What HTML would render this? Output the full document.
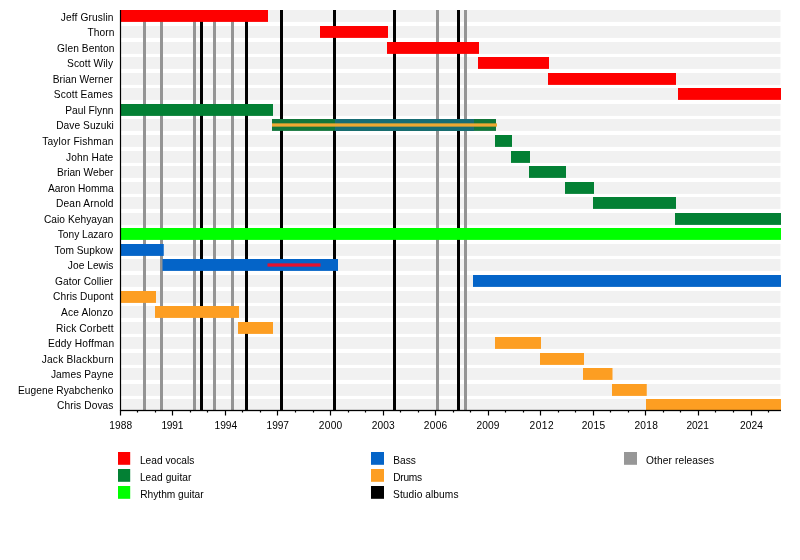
<!DOCTYPE html>
<html><head><meta charset="utf-8"><title>Timeline</title>
<style>
html,body{margin:0;padding:0;background:#fff;}
body{width:800px;height:560px;overflow:hidden;font-family:"Liberation Sans",sans-serif;}
svg{display:block;filter:blur(0.4px);}
text{font-family:"Liberation Sans",sans-serif;font-size:10.2px;fill:#000;}
</style></head><body>
<svg width="800" height="560" viewBox="0 0 800 560">
<rect width="800" height="560" fill="#fff"/>

<g fill="#f1f1f1">
<rect x="120.5" y="10.00" width="660" height="11.9"/>
<rect x="120.5" y="26.00" width="660" height="11.9"/>
<rect x="120.5" y="42.00" width="660" height="11.9"/>
<rect x="120.5" y="57.00" width="660" height="11.9"/>
<rect x="120.5" y="73.00" width="660" height="11.9"/>
<rect x="120.5" y="88.00" width="660" height="11.9"/>
<rect x="120.5" y="104.00" width="660" height="11.9"/>
<rect x="120.5" y="119.00" width="660" height="11.9"/>
<rect x="120.5" y="135.00" width="660" height="11.9"/>
<rect x="120.5" y="151.00" width="660" height="11.9"/>
<rect x="120.5" y="166.00" width="660" height="11.9"/>
<rect x="120.5" y="182.00" width="660" height="11.9"/>
<rect x="120.5" y="197.00" width="660" height="11.9"/>
<rect x="120.5" y="213.00" width="660" height="11.9"/>
<rect x="120.5" y="228.00" width="660" height="11.9"/>
<rect x="120.5" y="244.00" width="660" height="11.9"/>
<rect x="120.5" y="259.00" width="660" height="11.9"/>
<rect x="120.5" y="275.00" width="660" height="11.9"/>
<rect x="120.5" y="291.00" width="660" height="11.9"/>
<rect x="120.5" y="306.00" width="660" height="11.9"/>
<rect x="120.5" y="322.00" width="660" height="11.9"/>
<rect x="120.5" y="337.00" width="660" height="11.9"/>
<rect x="120.5" y="353.00" width="660" height="11.9"/>
<rect x="120.5" y="368.00" width="660" height="11.9"/>
<rect x="120.5" y="384.00" width="660" height="11.9"/>
<rect x="120.5" y="399.00" width="660" height="11.9"/>
</g>
<g fill="#949494">
<rect x="143" y="10" width="3" height="400"/>
<rect x="160" y="10" width="3" height="400"/>
<rect x="193" y="10" width="3" height="400"/>
<rect x="213" y="10" width="3" height="400"/>
<rect x="231" y="10" width="3" height="400"/>
<rect x="436" y="10" width="3" height="400"/>
<rect x="464" y="10" width="3" height="400"/>
</g><g fill="#000">
<rect x="200" y="10" width="3" height="400"/>
<rect x="245" y="10" width="3" height="400"/>
<rect x="280" y="10" width="3" height="400"/>
<rect x="333" y="10" width="3" height="400"/>
<rect x="393" y="10" width="3" height="400"/>
<rect x="457" y="10" width="3" height="400"/>
</g>
<rect x="120.5" y="10.00" width="147.50" height="11.9" fill="#fe0000"/>
<rect x="320" y="26.00" width="68.00" height="11.9" fill="#fe0000"/>
<rect x="387" y="42.00" width="92.00" height="11.9" fill="#fe0000"/>
<rect x="478" y="57.00" width="71.00" height="11.9" fill="#fe0000"/>
<rect x="548" y="73.00" width="128.00" height="11.9" fill="#fe0000"/>
<rect x="678" y="88.00" width="103.00" height="11.9" fill="#fe0000"/>
<rect x="120.5" y="104.00" width="152.50" height="11.9" fill="#038034"/>
<rect x="495" y="135.00" width="17.00" height="11.9" fill="#038034"/>
<rect x="511" y="151.00" width="19.00" height="11.9" fill="#038034"/>
<rect x="529" y="166.00" width="37.00" height="11.9" fill="#038034"/>
<rect x="565" y="182.00" width="29.00" height="11.9" fill="#038034"/>
<rect x="593" y="197.00" width="83.00" height="11.9" fill="#038034"/>
<rect x="675" y="213.00" width="106.00" height="11.9" fill="#038034"/>
<rect x="120.5" y="228.00" width="660.50" height="11.9" fill="#00ff00"/>
<rect x="120.5" y="244.00" width="43.25" height="11.9" fill="#0464c8"/>
<rect x="162.5" y="259.00" width="175.50" height="11.9" fill="#0464c8"/>
<rect x="473" y="275.00" width="308.00" height="11.9" fill="#0464c8"/>
<rect x="120.5" y="291.00" width="35.50" height="11.9" fill="#fd9e22"/>
<rect x="155" y="306.00" width="84.00" height="11.9" fill="#fd9e22"/>
<rect x="238" y="322.00" width="35.00" height="11.9" fill="#fd9e22"/>
<rect x="495" y="337.00" width="46.00" height="11.9" fill="#fd9e22"/>
<rect x="540" y="353.00" width="44.00" height="11.9" fill="#fd9e22"/>
<rect x="583" y="368.00" width="29.50" height="11.9" fill="#fd9e22"/>
<rect x="612" y="384.00" width="34.75" height="11.9" fill="#fd9e22"/>
<rect x="646" y="399.00" width="135.00" height="11.9" fill="#fd9e22"/>
<rect x="272" y="119.00" width="224" height="11.9" fill="#12763a"/>
<rect x="335" y="119.00" width="139" height="11.9" fill="#186c74"/>
<rect x="272" y="123.35" width="225" height="3.3" fill="#efa832"/>
<rect x="267.5" y="263.35" width="53" height="3.3" fill="#e4122e"/>
<rect x="119.9" y="10" width="1.2" height="400.5" fill="#000"/>
<rect x="120" y="409.85" width="661" height="1.3" fill="#000"/>
<rect x="119.90" y="410" width="1.2" height="5.5" fill="#000"/>
<text x="109.36" y="428.7" style="letter-spacing:0.083px">1988</text>
<rect x="136.90" y="410" width="1.2" height="2.5" fill="#000"/>
<rect x="154.90" y="410" width="1.2" height="2.5" fill="#000"/>
<rect x="171.90" y="410" width="1.2" height="5.5" fill="#000"/>
<text x="161.41" y="428.7" style="letter-spacing:-0.233px">1991</text>
<rect x="189.90" y="410" width="1.2" height="2.5" fill="#000"/>
<rect x="206.90" y="410" width="1.2" height="2.5" fill="#000"/>
<rect x="224.90" y="410" width="1.2" height="5.5" fill="#000"/>
<text x="214.41" y="428.7" style="letter-spacing:0.067px">1994</text>
<rect x="241.90" y="410" width="1.2" height="2.5" fill="#000"/>
<rect x="259.90" y="410" width="1.2" height="2.5" fill="#000"/>
<rect x="276.90" y="410" width="1.2" height="5.5" fill="#000"/>
<text x="266.61" y="428.7" style="letter-spacing:-0.133px">1997</text>
<rect x="294.90" y="410" width="1.2" height="2.5" fill="#000"/>
<rect x="312.90" y="410" width="1.2" height="2.5" fill="#000"/>
<rect x="329.90" y="410" width="1.2" height="5.5" fill="#000"/>
<text x="318.71" y="428.7" style="letter-spacing:0.3px">2000</text>
<rect x="347.90" y="410" width="1.2" height="2.5" fill="#000"/>
<rect x="364.90" y="410" width="1.2" height="2.5" fill="#000"/>
<rect x="382.90" y="410" width="1.2" height="5.5" fill="#000"/>
<text x="371.66" y="428.7" style="letter-spacing:0.1px">2003</text>
<rect x="399.90" y="410" width="1.2" height="2.5" fill="#000"/>
<rect x="417.90" y="410" width="1.2" height="2.5" fill="#000"/>
<rect x="434.90" y="410" width="1.2" height="5.5" fill="#000"/>
<text x="423.71" y="428.7" style="letter-spacing:0.3px">2006</text>
<rect x="452.90" y="410" width="1.2" height="2.5" fill="#000"/>
<rect x="469.90" y="410" width="1.2" height="2.5" fill="#000"/>
<rect x="487.90" y="410" width="1.2" height="5.5" fill="#000"/>
<text x="476.41" y="428.7" style="letter-spacing:0.1px">2009</text>
<rect x="504.90" y="410" width="1.2" height="2.5" fill="#000"/>
<rect x="522.90" y="410" width="1.2" height="2.5" fill="#000"/>
<rect x="539.90" y="410" width="1.2" height="5.5" fill="#000"/>
<text x="529.61" y="428.7" style="letter-spacing:0.433px">2012</text>
<rect x="557.90" y="410" width="1.2" height="2.5" fill="#000"/>
<rect x="574.90" y="410" width="1.2" height="2.5" fill="#000"/>
<rect x="592.90" y="410" width="1.2" height="5.5" fill="#000"/>
<text x="581.66" y="428.7" style="letter-spacing:0.25px">2015</text>
<rect x="609.90" y="410" width="1.2" height="2.5" fill="#000"/>
<rect x="627.90" y="410" width="1.2" height="2.5" fill="#000"/>
<rect x="644.90" y="410" width="1.2" height="5.5" fill="#000"/>
<text x="634.41" y="428.7" style="letter-spacing:0.283px">2018</text>
<rect x="662.90" y="410" width="1.2" height="2.5" fill="#000"/>
<rect x="679.90" y="410" width="1.2" height="2.5" fill="#000"/>
<rect x="697.90" y="410" width="1.2" height="5.5" fill="#000"/>
<text x="686.41" y="428.7" style="letter-spacing:-0.083px">2021</text>
<rect x="714.90" y="410" width="1.2" height="2.5" fill="#000"/>
<rect x="732.90" y="410" width="1.2" height="2.5" fill="#000"/>
<rect x="750.90" y="410" width="1.2" height="5.5" fill="#000"/>
<text x="740.01" y="428.7" style="letter-spacing:0.05px">2024</text>
<rect x="767.90" y="410" width="1.2" height="2.5" fill="#000"/>
<text x="60.71" y="20.55" style="letter-spacing:0.136px">Jeff Gruslin</text>
<text x="87.48" y="36.10" style="letter-spacing:0.087px">Thorn</text>
<text x="57.06" y="51.65" style="letter-spacing:0.075px">Glen Benton</text>
<text x="67.0" y="67.20" style="letter-spacing:0.083px">Scott Wily</text>
<text x="52.68" y="82.75" style="letter-spacing:0.026px">Brian Werner</text>
<text x="53.78" y="98.30" style="letter-spacing:0.13px">Scott Eames</text>
<text x="65.21" y="113.85" style="letter-spacing:0.022px">Paul Flynn</text>
<text x="56.15" y="129.40" style="letter-spacing:0.055px">Dave Suzuki</text>
<text x="42.27" y="144.95" style="letter-spacing:0.169px">Taylor Fishman</text>
<text x="66.05" y="160.50" style="letter-spacing:0.1px">John Hate</text>
<text x="57.06" y="176.05" style="letter-spacing:-0.01px">Brian Weber</text>
<text x="48.06" y="191.60" style="letter-spacing:-0.015px">Aaron Homma</text>
<text x="56.02" y="207.15" style="letter-spacing:0.145px">Dean Arnold</text>
<text x="43.89" y="222.70" style="letter-spacing:0.046px">Caio Kehyayan</text>
<text x="57.8" y="238.25" style="letter-spacing:-0.025px">Tony Lazaro</text>
<text x="54.62" y="253.80" style="letter-spacing:0.011px">Tom Supkow</text>
<text x="67.84" y="269.35" style="letter-spacing:0.032px">Joe Lewis</text>
<text x="55.11" y="284.90" style="letter-spacing:0.042px">Gator Collier</text>
<text x="53.04" y="300.45" style="letter-spacing:0.072px">Chris Dupont</text>
<text x="61.12" y="316.00" style="letter-spacing:0.133px">Ace Alonzo</text>
<text x="56.05" y="331.55" style="letter-spacing:0.136px">Rick Corbett</text>
<text x="48.03" y="347.10" style="letter-spacing:0.155px">Eddy Hoffman</text>
<text x="41.66" y="362.65" style="letter-spacing:0.227px">Jack Blackburn</text>
<text x="50.92" y="378.20" style="letter-spacing:0.08px">James Payne</text>
<text x="17.91" y="393.75" style="letter-spacing:0.059px">Eugene Ryabchenko</text>
<text x="56.97" y="409.30" style="letter-spacing:0.1px">Chris Dovas</text>
<rect x="118" y="452" width="12.2" height="12.8" fill="#fe0000"/>
<text x="139.9" y="463.6" style="letter-spacing:0px">Lead vocals</text>
<rect x="118" y="469" width="12.2" height="12.8" fill="#038034"/>
<text x="139.9" y="480.6" style="letter-spacing:0.05px">Lead guitar</text>
<rect x="118" y="486" width="12.2" height="12.8" fill="#00ff00"/>
<text x="140.2" y="497.6" style="letter-spacing:0px">Rhythm guitar</text>
<rect x="371" y="452" width="13" height="12.8" fill="#0464c8"/>
<text x="393.3" y="463.6" style="letter-spacing:0px">Bass</text>
<rect x="371" y="469" width="13" height="12.8" fill="#fd9e22"/>
<text x="393.3" y="480.6" style="letter-spacing:-0.3px">Drums</text>
<rect x="371" y="486" width="13" height="12.8" fill="#000"/>
<text x="393.1" y="497.6" style="letter-spacing:0.07px">Studio albums</text>
<rect x="624" y="452" width="13" height="12.8" fill="#979797"/>
<text x="646.0" y="463.6" style="letter-spacing:0.1px">Other releases</text>
</svg></body></html>
